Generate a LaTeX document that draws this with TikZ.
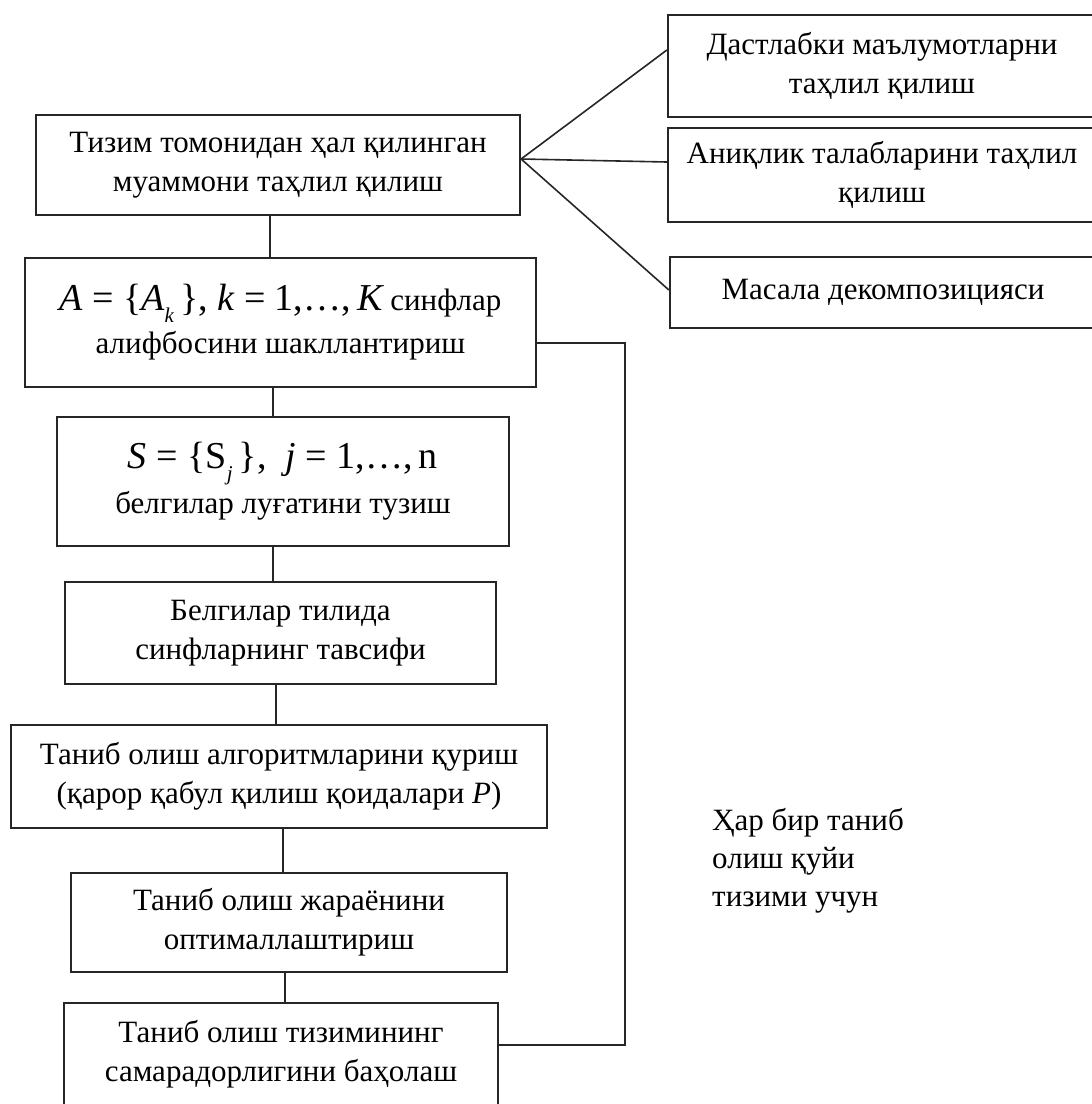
\documentclass[tikz,border=0pt]{standalone}
\usepackage{fontspec}
\setmainfont{Liberation Serif}
\begin{document}
\begin{tikzpicture}[x=1pt,y=-1pt,
  box/.style={draw=black!85,line width=2.2pt,inner sep=0pt,align=center,
    font=\fontsize{31}{39}\selectfont},
  link/.style={draw=black!85,line width=1.6pt}]
\useasboundingbox (0,0) rectangle (1092,1104);
\node[box,minimum width=484,minimum height=100] (b1) at (278,165)
  {Тизим томонидан ҳал қилинган\\муаммони таҳлил қилиш};
\node[box,minimum width=511,minimum height=129] (b2) at (280.5,322.5)
  {{\fontsize{38}{40}\selectfont\itshape A\upshape\ =\ \{\itshape A\raisebox{-0.3em}{\fontsize{21}{21}\selectfont k}\upshape\,\}, \itshape k\upshape\ =\ 1,…,\,\itshape K}\ синфлар\\[4pt]алифбосини шакллантириш};
\node[box,minimum width=452,minimum height=129] (b3) at (283,481.5)
  {{\fontsize{38}{40}\selectfont\itshape S\upshape\ =\ \{S\raisebox{-0.3em}{\fontsize{21}{21}\selectfont\itshape j}\,\},\ \ \itshape j\upshape\ =\ 1,…,\,n}\\[6pt]белгилар луғатини тузиш};
\node[box,minimum width=431,minimum height=102] (b4) at (280.5,633)
  {Белгилар тилида\\синфларнинг тавсифи};
\node[box,minimum width=536,minimum height=103] (b5) at (279,776.5)
  {Таниб олиш алгоритмларини қуриш\\(қарор қабул қилиш қоидалари \textit{P})};
\node[box,minimum width=436,minimum height=99] (b6) at (289,922.5)
  {Таниб олиш жараёнини\\оптималлаштириш};
\node[box,minimum width=434,minimum height=103] (b7) at (281,1054.5)
  {Таниб олиш тизимининг\\самарадорлигини баҳолаш};
\node[box,minimum width=428,minimum height=102] (r1) at (882,66)
  {Дастлабки маълумотларни\\таҳлил қилиш};
\node[box,minimum width=428,minimum height=94] (r2) at (882,175)
  {Аниқлик талабларини таҳлил\\қилиш};
\node[box,minimum width=426,minimum height=71] (r3) at (883,292.5)
  {Масала декомпозицияси};
\node[anchor=west,align=left,inner sep=0pt,font=\fontsize{31}{38}\selectfont] (side) at (712,861)
  {Ҳар бир таниб\\олиш қуйи\\тизими учун};
% fan
\coordinate (fan) at (b1.east |- 0,159);
\draw[link] (fan) -- (r1.west |- 0,50);
\draw[link] (fan) -- (r2.west |- 0,162);
\draw[link] (fan) -- (r3.west |- 0,290);
% vertical chain
\draw[link] (b1.south -| 270,0) -- (b2.north -| 270,0);
\draw[link] (b2.south -| 273,0) -- (b3.north -| 273,0);
\draw[link] (b3.south -| 273,0) -- (b4.north -| 273,0);
\draw[link] (b4.south -| 276,0) -- (b5.north -| 276,0);
\draw[link] (b5.south -| 283,0) -- (b6.north -| 283,0);
\draw[link] (b6.south -| 285,0) -- (b7.north -| 285,0);
% feedback
\coordinate (fb1) at (625,343);
\coordinate (fb2) at (625,1045);
\draw[link] (b2.east |- fb1) -- (fb1) -- (fb2) -- (b7.east |- fb2);
\end{tikzpicture}
\end{document}
